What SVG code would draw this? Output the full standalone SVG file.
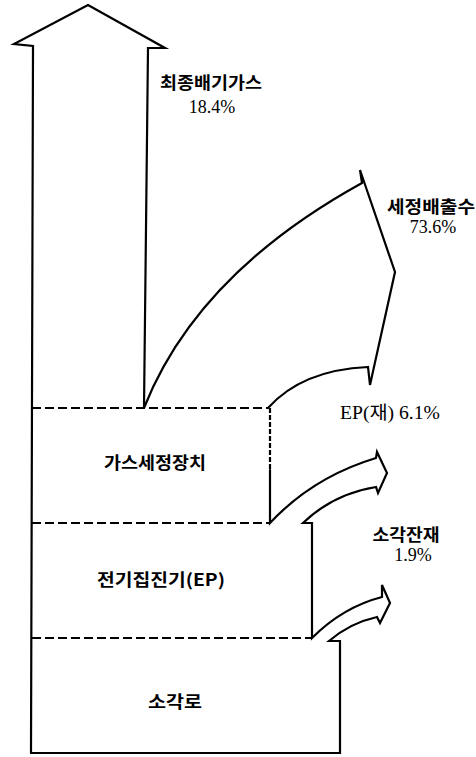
<svg xmlns="http://www.w3.org/2000/svg" width="476" height="757" viewBox="0 0 476 757">
<style>
.ol{fill:none;stroke:#000;stroke-width:2.2;stroke-linejoin:miter;stroke-linecap:round}
.ds{fill:none;stroke:#000;stroke-width:2.2;stroke-dasharray:9,4}
.t{font-family:"Liberation Serif","Noto Sans CJK KR",serif;font-size:18px;fill:#000;text-anchor:middle}
.k{font-family:"Noto Sans CJK KR","Liberation Serif",sans-serif;font-size:17px;font-weight:bold;fill:#000;text-anchor:middle}
</style>
<rect width="476" height="757" fill="#fff"/>
<g id="connectors">
<path class="ol" d="M31 753 L33 46 L14 44 L88 5 L165 48 L148 48 L144 408 Q197 274 362 183 L360 170 L395 272 L370 385 L368 367 Q302 370 268 408"/>
<path class="ol" d="M270 470 L270 523 Q313 477 376 458 L377 452 L387 473 L378 493 L376 487 Q333 494 303 523 L312 523 L312 638 Q343 607 382 597 L382 585 L390 603 L380 623 L377 617 Q350 623 329 641 L340 641 L340 753 L31 753"/>
</g>
<g id="gas-cleaner">
<line class="ds" x1="32" y1="408" x2="268" y2="408"/>
<line class="ds" x1="270" y1="408" x2="270" y2="470" style="stroke-dasharray:5,2"/>
<text class="k" x="155" y="469" textLength="102" lengthAdjust="spacingAndGlyphs">가스세정장치</text>
</g>
<g id="ep">
<line class="ds" x1="32" y1="523" x2="270" y2="523"/>
<text class="k" x="161" y="586" textLength="128" lengthAdjust="spacingAndGlyphs">전기집진기(EP)</text>
</g>
<g id="incinerator">
<line class="ds" x1="32" y1="638" x2="312" y2="638"/>
<text class="k" x="175" y="708" textLength="54" lengthAdjust="spacingAndGlyphs">소각로</text>
</g>
<g id="label-final">
<text class="k" x="211" y="89" textLength="102" lengthAdjust="spacingAndGlyphs">최종배기가스</text>
<text class="t" x="212" y="113">18.4%</text>
</g>
<g id="label-wash">
<text class="k" x="431" y="213" textLength="88" lengthAdjust="spacingAndGlyphs">세정배출수</text>
<text class="t" x="433" y="233">73.6%</text>
</g>
<g id="label-ep">
<text class="t" x="390" y="419" textLength="100" lengthAdjust="spacingAndGlyphs">EP(재) 6.1%</text>
</g>
<g id="label-ash">
<text class="k" x="406" y="541" textLength="67" lengthAdjust="spacingAndGlyphs">소각잔재</text>
<text class="t" x="413" y="561">1.9%</text>
</g>
</svg>
